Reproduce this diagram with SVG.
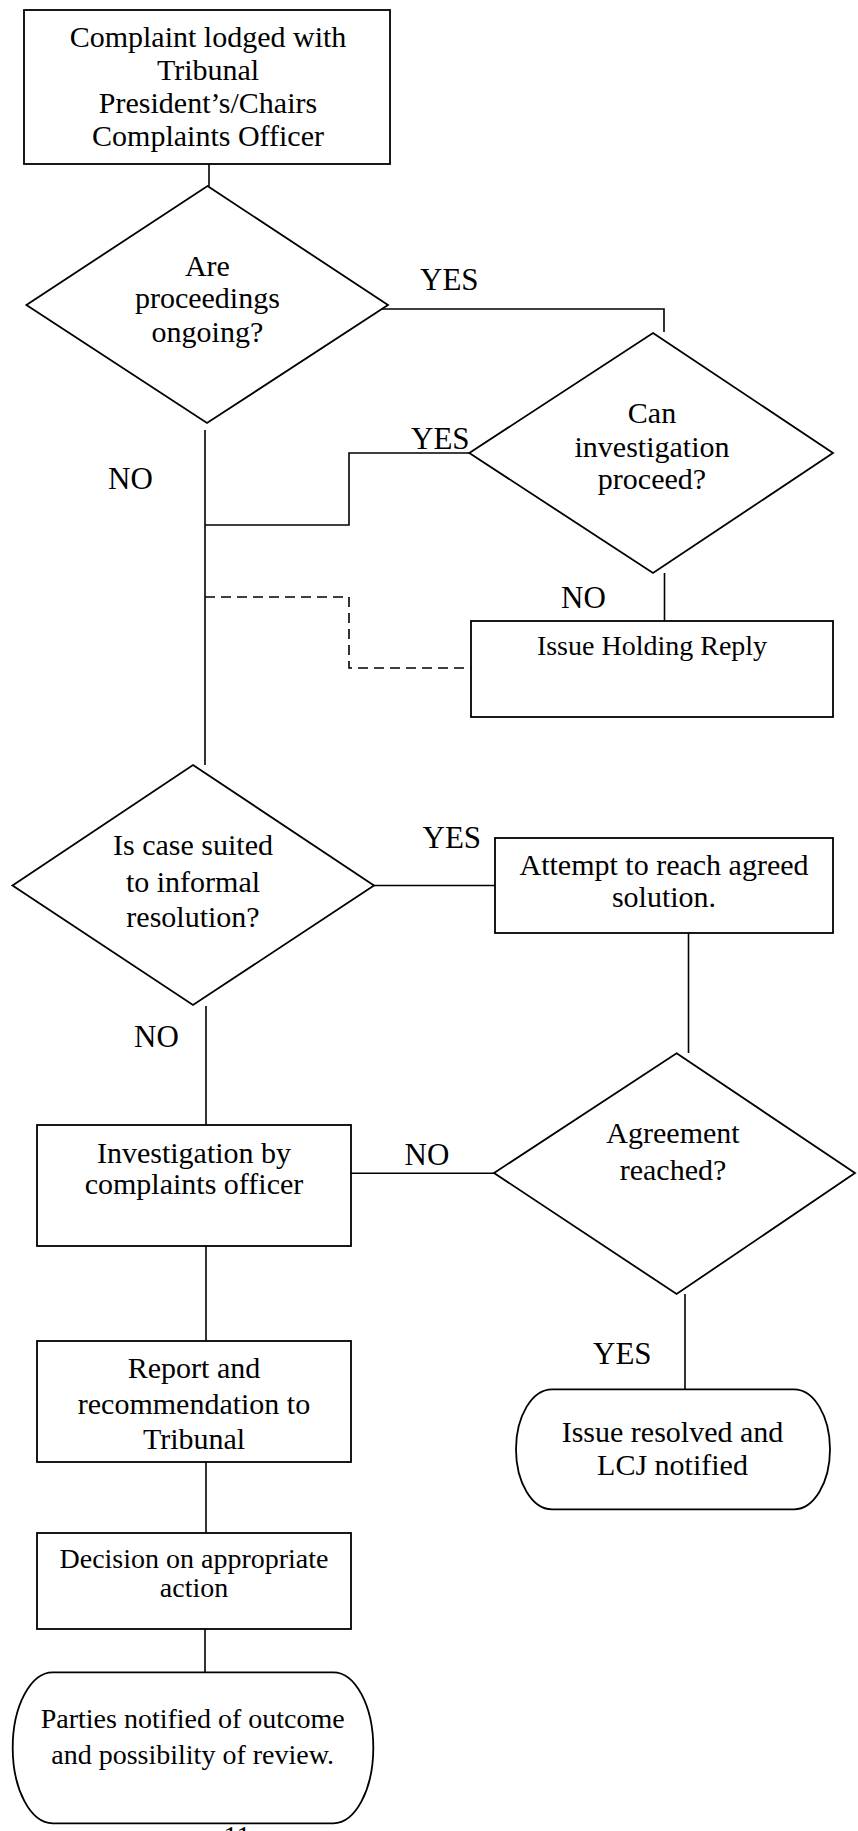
<svg xmlns="http://www.w3.org/2000/svg" width="858" height="1831" viewBox="0 0 858 1831">
<style>
.s{fill:#fff;stroke:#000;stroke-width:1.8}
.c{fill:none;stroke:#000;stroke-width:1.6}
.d{fill:none;stroke:#000;stroke-width:1.6;stroke-dasharray:10 6}
text{font-family:"Liberation Serif","Times New Roman",serif;fill:#000}
.t{font-size:30px;text-anchor:middle}
.m{font-size:28px;text-anchor:middle}
.l{font-size:31px}
</style>
<rect width="858" height="1831" fill="#fff"/>
<g id="connectors">
<line class="c" x1="209" y1="164" x2="209" y2="186"/>
<polyline class="c" points="373,309 664,309 664,332"/>
<polyline class="c" points="469,453 349,453 349,525 205,525"/>
<line class="c" x1="205" y1="430" x2="205" y2="765"/>
<line class="c" x1="664.5" y1="573" x2="664.5" y2="621"/>
<polyline class="d" points="205,597 349,597 349,668 471,668"/>
<line class="c" x1="374" y1="885.5" x2="495" y2="885.5"/>
<line class="c" x1="688.5" y1="933" x2="688.5" y2="1053"/>
<line class="c" x1="206" y1="1006" x2="206" y2="1125"/>
<line class="c" x1="351" y1="1173.3" x2="494" y2="1173.3"/>
<line class="c" x1="206" y1="1246" x2="206" y2="1341"/>
<line class="c" x1="206" y1="1462" x2="206" y2="1533"/>
<line class="c" x1="685" y1="1294" x2="685" y2="1389"/>
<line class="c" x1="205" y1="1623" x2="205" y2="1672"/>
</g>
<g id="labels">
<text class="l" x="420" y="290">YES</text>
<text class="l" x="411" y="449">YES</text>
<text class="l" x="108" y="489">NO</text>
<text class="l" x="561" y="608">NO</text>
<text class="l" x="422.5" y="848">YES</text>
<text class="l" x="134" y="1046.7">NO</text>
<text class="l" x="404.5" y="1165">NO</text>
<text class="l" x="593" y="1364">YES</text>
</g>
<g id="start">
<rect class="s" x="24" y="10" width="366" height="154"/>
<text class="t" x="208" y="46.7">Complaint lodged with</text>
<text class="t" x="208" y="80">Tribunal</text>
<text class="t" x="208" y="113.3">President’s/Chairs</text>
<text class="t" x="208" y="145.7">Complaints Officer</text>
</g>
<g id="proceedings">
<polygon class="s" points="207.5,186 388,305 207,423 26.4,305"/>
<text class="t" x="207.4" y="276">Are</text>
<text class="t" x="207.4" y="308.3">proceedings</text>
<text class="t" x="207.4" y="341.7">ongoing?</text>
</g>
<g id="canproceed">
<polygon class="s" points="653,333 833,453 653,573 469.3,453"/>
<text class="t" x="652" y="423.3">Can</text>
<text class="t" x="652" y="457.3">investigation</text>
<text class="t" x="652" y="489.3">proceed?</text>
</g>
<g id="holding">
<rect class="s" x="471" y="621" width="362" height="96"/>
<text class="m" x="652" y="655.3">Issue Holding Reply</text>
</g>
<g id="informal">
<polygon class="s" points="193,765 374,885.5 193,1005 12.5,885.5"/>
<text class="t" x="193" y="855">Is case suited</text>
<text class="t" x="193" y="891.7">to informal</text>
<text class="t" x="193" y="927.3">resolution?</text>
</g>
<g id="attempt">
<rect class="s" x="495" y="838" width="338" height="95"/>
<text class="t" x="664" y="874.5">Attempt to reach agreed</text>
<text class="t" x="664" y="906.7">solution.</text>
</g>
<g id="agreement">
<polygon class="s" points="676.6,1053.3 855,1173 676.6,1294 494,1173"/>
<text class="t" x="673" y="1143.3">Agreement</text>
<text class="t" x="673" y="1180">reached?</text>
</g>
<g id="investigation">
<rect class="s" x="37" y="1125" width="314" height="121"/>
<text class="t" x="194" y="1162.7">Investigation by</text>
<text class="t" x="194" y="1194">complaints officer</text>
</g>
<g id="report">
<rect class="s" x="37" y="1341" width="314" height="121"/>
<text class="t" x="194" y="1378">Report and</text>
<text class="t" x="194" y="1414">recommendation to</text>
<text class="t" x="194" y="1449">Tribunal</text>
</g>
<g id="resolved">
<rect class="s" x="516" y="1389.3" width="314" height="120" rx="36" ry="60"/>
<text class="t" x="672.5" y="1441.7">Issue resolved and</text>
<text class="t" x="672.5" y="1475">LCJ notified</text>
</g>
<g id="decision">
<rect class="s" x="37" y="1533" width="314" height="96"/>
<text class="m" x="194" y="1567.7">Decision on appropriate</text>
<text class="m" x="194" y="1596.7">action</text>
</g>
<g id="parties">
<rect class="s" x="12.7" y="1672.3" width="360.6" height="151" rx="40" ry="75.5"/>
<text class="m" x="192.7" y="1728.3">Parties notified of outcome</text>
<text class="m" x="192.7" y="1764">and possibility of review.</text>
</g>
<g id="page">
<text class="m" x="237" y="1845">11</text>
</g>
</svg>
